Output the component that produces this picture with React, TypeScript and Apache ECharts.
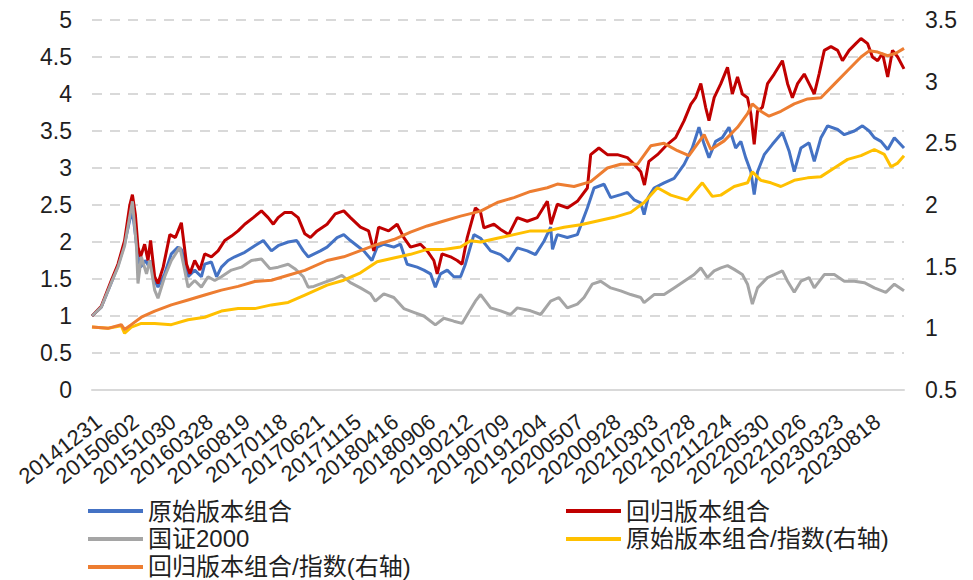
import React, { useEffect, useRef } from "react";
import * as echarts from "echarts";

const dateLabels = [
  "20141231", "20150602", "20151030", "20160328", "20160819", "20170118",
  "20170621", "20171115", "20180416", "20180906", "20190212", "20190709",
  "20191204", "20200507", "20200928", "20210303", "20210728", "20211224",
  "20220530", "20221026", "20230323", "20230818",
];

const seriesNames = [
  "原始版本组合",
  "回归版本组合",
  "国证2000",
  "原始版本组合/指数(右轴)",
  "回归版本组合/指数(右轴)",
];

// [trading-day index, value]
const originalPortfolio = [
  [0,1.0],[25,1.12],[52,1.45],[70,1.68],[88,1.98],[102,2.3],[109,2.42],[117,2.1],[124,1.8],[131,1.66],[145,1.75],[152,1.68],[158,1.75],[165,1.53],[178,1.39],[196,1.57],[214,1.84],[232,1.93],[241,1.9],[250,1.75],[259,1.53],[277,1.62],[295,1.53],[304,1.7],[322,1.73],[336,1.53],[349,1.66],[367,1.75],[385,1.8],[412,1.86],[439,1.95],[462,2.02],[484,1.88],[502,1.95],[529,2.0],[552,2.02],[570,1.88],[583,1.8],
  [616,1.88],[634,1.93],[661,2.06],[679,2.1],[697,2.02],[715,1.95],[733,1.88],[755,1.75],[769,1.93],[787,1.97],[814,1.93],[832,1.97],[850,1.7],[877,1.66],[895,1.62],[913,1.57],[926,1.39],[940,1.57],[958,1.62],[976,1.53],[994,1.53],[1007,1.7],[1030,2.1],[1048,2.05],[1075,1.88],[1102,1.83],[1124,1.74],[1147,1.92],[1174,1.88],[1196,1.83],[1219,2.01],[1237,2.2],[1242,1.9],[1255,2.1],[1282,2.06],[1309,2.1],[1336,2.46],[1354,2.73],[1381,2.78],[1399,2.6],
  [1426,2.64],[1444,2.67],[1462,2.57],[1480,2.53],[1489,2.37],[1500,2.6],[1516,2.73],[1543,2.8],[1570,2.86],[1597,3.05],[1619,3.27],[1637,3.55],[1651,3.32],[1664,3.14],[1682,3.36],[1700,3.41],[1718,3.55],[1736,3.27],[1750,3.36],[1763,3.14],[1777,2.95],[1786,2.64],[1795,2.95],[1813,3.18],[1835,3.32],[1862,3.48],[1880,3.23],[1894,2.95],[1912,3.27],[1934,3.34],[1948,3.09],[1966,3.41],[1984,3.57],[2011,3.52],[2029,3.45],[2056,3.5],[2078,3.57],[2096,3.5],[2110,3.41],[2128,3.36],[2146,3.25],[2164,3.41],[2190,3.27],
];

const regressionPortfolio = [
  [0,1.0],[25,1.13],[52,1.48],[70,1.7],[88,2.02],[102,2.5],[109,2.64],[117,2.37],[124,1.93],[131,1.8],[142,1.97],[151,1.75],[158,2.02],[169,1.53],[178,1.44],[192,1.66],[210,2.1],[225,2.06],[241,2.26],[255,1.7],[264,1.57],[277,1.75],[291,1.62],[304,1.84],[322,1.8],[340,1.88],[358,2.02],[376,2.08],[394,2.15],[412,2.24],[435,2.33],[457,2.42],[475,2.33],[489,2.24],[502,2.33],[520,2.4],[538,2.4],[556,2.33],[574,2.11],[589,2.06],
  [607,2.15],[634,2.24],[656,2.38],[679,2.42],[697,2.33],[724,2.2],[746,2.15],[760,1.88],[773,2.2],[800,2.15],[823,2.24],[841,2.06],[859,1.93],[886,1.97],[904,1.88],[922,1.75],[931,1.57],[944,1.84],[967,1.8],[985,1.75],[998,1.7],[1012,2.06],[1034,2.46],[1048,2.4],[1057,2.19],[1084,2.24],[1102,2.17],[1124,2.1],[1147,2.33],[1174,2.28],[1201,2.33],[1228,2.55],[1238,2.24],[1255,2.51],[1282,2.46],[1309,2.55],[1336,2.73],[1345,3.18],[1367,3.27],[1390,3.18],[1417,3.18],
  [1444,3.14],[1462,3.05],[1480,2.95],[1490,2.77],[1502,3.09],[1525,3.18],[1552,3.32],[1574,3.41],[1597,3.64],[1615,3.86],[1628,3.95],[1642,4.14],[1655,3.82],[1664,3.64],[1678,3.95],[1696,4.14],[1714,4.36],[1727,4.0],[1741,4.23],[1754,4.0],[1768,3.95],[1777,3.73],[1786,3.32],[1795,3.77],[1808,3.82],[1822,4.14],[1840,4.27],[1862,4.45],[1876,4.14],[1889,3.95],[1903,4.14],[1921,4.27],[1934,4.14],[1948,4.0],[1961,4.27],[1975,4.59],[1993,4.64],[2011,4.59],[2024,4.45],[2042,4.59],[2060,4.68],[2074,4.75],[2092,4.68],[2105,4.5],[2119,4.45],[2132,4.55],[2146,4.23],[2159,4.59],[2173,4.5],[2190,4.34],
];

const guozheng2000 = [
  [0,1.0],[25,1.12],[52,1.45],[70,1.66],[88,1.95],[102,2.35],[109,2.55],[120,1.93],[124,1.44],[133,1.8],[147,1.57],[156,1.75],[169,1.35],[178,1.24],[196,1.53],[214,1.75],[237,1.93],[250,1.62],[259,1.39],[277,1.48],[295,1.39],[313,1.53],[331,1.48],[349,1.53],[376,1.62],[403,1.66],[430,1.75],[457,1.77],[480,1.64],[502,1.66],[529,1.7],[547,1.64],[570,1.53],[583,1.39],
  [598,1.4],[625,1.45],[652,1.5],[674,1.55],[697,1.45],[724,1.38],[751,1.3],[764,1.2],[787,1.3],[814,1.25],[841,1.1],[868,1.05],[895,1.0],[926,0.88],[949,0.97],[976,0.93],[998,0.9],[1016,1.05],[1034,1.2],[1048,1.29],[1075,1.11],[1102,1.07],[1129,1.02],[1147,1.11],[1183,1.07],[1210,1.02],[1237,1.2],[1259,1.25],[1282,1.11],[1309,1.16],[1327,1.25],[1349,1.43],[1372,1.47],[1399,1.38],[1426,1.34],[1453,1.29],[1480,1.25],[1489,1.18],[1516,1.29],[1543,1.29],[1570,1.38],[1597,1.47],[1624,1.56],[1642,1.65],[1660,1.52],[1678,1.61],[1696,1.65],[1714,1.68],[1732,1.63],[1754,1.56],[1768,1.43],[1781,1.16],[1795,1.38],[1822,1.52],[1840,1.56],[1862,1.61],[1876,1.47],[1894,1.32],[1912,1.47],[1934,1.52],[1948,1.38],[1975,1.56],[2002,1.56],[2029,1.47],[2056,1.47],[2083,1.45],[2110,1.38],[2141,1.32],[2164,1.43],[2190,1.34],
];

const originalOverIndex = [
  [0,1.01],[43,1.0],[79,1.02],[88,0.96],[106,1.01],[133,1.04],[169,1.04],[214,1.03],[259,1.07],[304,1.09],[349,1.14],[394,1.16],[439,1.16],[484,1.19],[529,1.21],[574,1.27],
  [634,1.35],[679,1.39],[724,1.45],[769,1.54],[814,1.57],[859,1.6],[904,1.64],[949,1.64],[994,1.66],[1021,1.71],[1048,1.7],[1093,1.73],[1138,1.76],[1183,1.79],[1228,1.79],[1273,1.82],[1318,1.84],[1363,1.87],[1408,1.9],[1453,1.94],[1489,2.02],
  [1525,2.14],[1561,2.08],[1606,2.04],[1646,2.18],[1673,2.07],[1696,2.08],[1732,2.15],[1768,2.18],[1781,2.27],[1804,2.2],[1831,2.18],[1858,2.15],[1894,2.2],[1930,2.22],[1966,2.23],[2002,2.3],[2038,2.37],[2074,2.4],[2110,2.45],[2137,2.41],[2155,2.31],[2173,2.34],[2190,2.4],
];

const regressionOverIndex = [
  [0,1.01],[43,1.0],[79,1.03],[88,0.99],[106,1.03],[133,1.09],[169,1.14],[214,1.19],[259,1.23],[304,1.27],[349,1.31],[394,1.34],[439,1.38],[484,1.39],[529,1.43],[574,1.47],
  [634,1.55],[679,1.58],[724,1.63],[769,1.68],[814,1.72],[859,1.78],[904,1.83],[949,1.87],[994,1.91],[1048,1.95],[1093,2.02],[1138,2.06],[1183,2.11],[1228,2.14],[1255,2.17],[1300,2.15],[1345,2.19],[1390,2.3],
  [1426,2.33],[1471,2.33],[1507,2.48],[1543,2.5],[1579,2.44],[1610,2.4],[1651,2.57],[1669,2.45],[1705,2.52],[1741,2.63],[1768,2.74],[1781,2.82],[1804,2.76],[1826,2.72],[1858,2.76],[1894,2.82],[1930,2.86],[1966,2.87],[2002,2.98],[2038,3.09],[2074,3.2],[2096,3.25],[2119,3.24],[2146,3.21],[2168,3.23],[2190,3.27],
];

const colors = ["#4472C4", "#C00000", "#A5A5A5", "#FFC000", "#ED7D31"];
const FONT = '"Liberation Sans", Arial, "Noto Sans CJK SC", sans-serif';
const TEXT = "#1f1f1f";

export default function App() {
  const ref = useRef<HTMLDivElement>(null);
  useEffect(() => {
    if (!ref.current) return;
    const chart = echarts.init(ref.current, null, { renderer: "svg" });
    const datasets = [originalPortfolio, regressionPortfolio, guozheng2000, originalOverIndex, regressionOverIndex];
    const legendBase = {
      orient: "vertical",
      top: 499,
      padding: 0,
      itemGap: 4,
      itemWidth: 55,
      itemHeight: 4,
      icon: "rect",
      textStyle: { fontSize: 24, color: TEXT, fontFamily: FONT },
    };
    chart.setOption({
      animation: false,
      textStyle: { fontFamily: FONT },
      grid: { left: 92, right: 69, top: 20, bottom: 190, containLabel: false },
      legend: [
        { ...legendBase, data: [seriesNames[0], seriesNames[2], seriesNames[4]], left: 88 },
        { ...legendBase, data: [seriesNames[1], seriesNames[3]], left: 566 },
      ],
      xAxis: {
        type: "value",
        min: 0,
        max: 2190,
        interval: 100,
        z: 5,
        axisLine: { show: true, lineStyle: { color: "#d9d9d9", width: 2 } },
        axisTick: { show: false },
        splitLine: { show: false },
        axisLabel: {
          rotate: 38,
          fontSize: 22,
          color: TEXT,
          fontFamily: FONT,
          margin: 20,
          align: "right",
          verticalAlign: "top",
          showMaxLabel: false,
          formatter: (v: number) => {
            const i = v / 100;
            return Number.isInteger(i) && dateLabels[i] ? dateLabels[i] : "";
          },
        },
      },
      yAxis: [
        {
          type: "value",
          min: 0,
          max: 5,
          interval: 0.5,
          axisLine: { show: false },
          axisTick: { show: false },
          axisLabel: { fontSize: 23, color: TEXT, margin: 20, fontFamily: FONT },
          splitLine: { show: true, lineStyle: { color: "#d9d9d9", width: 2, type: [10, 8] } },
        },
        {
          type: "value",
          min: 0.5,
          max: 3.5,
          interval: 0.5,
          position: "right",
          axisLine: { show: false },
          axisTick: { show: false },
          axisLabel: { fontSize: 23, color: TEXT, margin: 21, fontFamily: FONT },
          splitLine: { show: false },
        },
      ],
      series: seriesNames.map((name, i) => ({
        name,
        type: "line",
        yAxisIndex: i >= 3 ? 1 : 0,
        data: datasets[i],
        showSymbol: false,
        symbol: "none",
        lineStyle: { width: 3, color: colors[i] },
        itemStyle: { color: colors[i] },
        z: 2 + i,
      })),
    });
    return () => chart.dispose();
  }, []);
  return (
    <div
      ref={ref}
      style={{ position: "fixed", left: 0, top: 0, width: 973, height: 580, background: "#fff" }}
    />
  );
}
